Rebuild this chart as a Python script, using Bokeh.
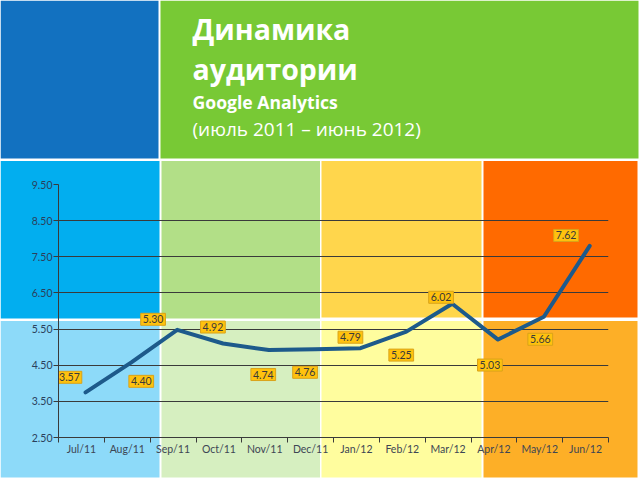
import numpy as np
from bokeh.plotting import figure
from bokeh.models import (Range1d, LinearAxis, FixedTicker, NumeralTickFormatter,
                          ColumnDataSource, Grid, GridBox, Column)
from bokeh.core.properties import value
from bokeh.embed import file_html
from bokeh.resources import INLINE

# ---------------- data ----------------
categories = ["Jul/11", "Aug/11", "Sep/11", "Oct/11", "Nov/11", "Dec/11",
              "Jan/12", "Feb/12", "Mar/12", "Apr/12", "May/12", "Jun/12"]
audience = [3.57, 4.40, 5.30, 4.92, 4.74, 4.76, 4.79, 5.25, 6.02, 5.03, 5.66, 7.62]
y_ticks = [2.50, 3.50, 4.50, 5.50, 6.50, 7.50, 8.50, 9.50]
title_lines = ["Динамика", "аудитории"]
subtitle = "Google Analytics"
period = "(июль 2011 – июнь 2012)"

# ---------------- layout / style ----------------
W, H = 640, 480
label_dx = [-12, 14, -20, -6, -1.5, -5.5, -6, -1, -7, -4, 0.5, -19.5]
label_dy = [-21.5, 12.5, -17, -23, 18, 16.5, -17.5, 17, -13, 19, 16, -17]

# background panels (slide decoration): left, right, top, bottom in page pixels
panels = dict(
    left=[0, 160, 0, 161, 321, 483, 0, 161, 321, 483],
    right=[158, 638, 159, 319.5, 481, 637, 159, 319.5, 481, 637],
    top=[0, 0, 160.5, 160.5, 160.5, 160.5, 320.5, 320.5, 320.5, 320.5],
    bottom=[158, 158, 318, 318, 317, 317, 477, 477, 477, 477],
    color=["#1271C0", "#78C935", "#02AEEF", "#B2DF87", "#FFD64C", "#FF6A00",
           "#8DDAF9", "#D6EFC0", "#FFFD9E", "#FDAF27"],
)

# ---------------- background figure ----------------
bg = figure(width=W, height=H, x_range=Range1d(0, W), y_range=Range1d(H, 0),
            x_axis_type=None, y_axis_type=None, output_backend="svg", toolbar_location=None,
            min_border=0)
bg.outline_line_color = None
bg.border_fill_color = "white"
bg.background_fill_color = "white"
bg.quad(left="left", right="right", top="top", bottom="bottom", color="color",
        source=ColumnDataSource(panels), line_color=None)

TITLE_FONT = "Open Sans"
title_specs = [
    (title_lines[0], 28, "28.5px", "bold"),
    (title_lines[1], 68, "28.5px", "bold"),
    (subtitle, 101, "17.6px", "bold"),
    (period, 128, "19px", "normal"),
]
for text, y, size, style in title_specs:
    bg.text(x=[192], y=[y], text=[text], text_font=value(TITLE_FONT), text_font_size=size,
            text_font_style=style, text_color="white", text_baseline="alphabetic",
            text_align="left")

# ---------------- chart figure ----------------
n = len(categories)
centers = [i + 0.5 for i in range(n)]
bounds = list(range(n + 1))

p = figure(width=W, height=H, x_range=Range1d(0, n), y_range=Range1d(y_ticks[0], y_ticks[-1]),
           x_axis_type=None, y_axis_type=None, output_backend="svg", toolbar_location=None,
           min_border_left=58, min_border_right=32, min_border_top=184, min_border_bottom=43)
p.outline_line_color = None
p.background_fill_color = None
p.border_fill_color = None

# the line in the original is drawn slightly shifted against the grid
p.extra_x_ranges = {"lx": Range1d(-0.09, n - 0.09)}
p.extra_y_ranges = {"ly": Range1d(y_ticks[0] - 0.18, y_ticks[-1] - 0.18)}

p.add_layout(Grid(dimension=1, ticker=FixedTicker(ticks=y_ticks), grid_line_color="#3a3a3a",
                  grid_line_width=1))

TICK_FONT = "Lato"
yaxis = LinearAxis(ticker=FixedTicker(ticks=y_ticks), formatter=NumeralTickFormatter(format="0.00"),
                   major_tick_out=5, major_tick_in=0, minor_tick_out=0, minor_tick_in=0,
                   axis_line_color="#3a3a3a", major_tick_line_color="#3a3a3a",
                   major_label_text_font=TICK_FONT, major_label_text_font_size="10.5px",
                   major_label_text_color="#2b3f5c", major_label_standoff=1)
p.add_layout(yaxis, "left")

xaxis = LinearAxis(ticker=FixedTicker(ticks=centers, minor_ticks=bounds),
                   major_label_overrides={c: cat for c, cat in zip(centers, categories)},
                   major_tick_out=0, major_tick_in=0, minor_tick_out=5, minor_tick_in=0,
                   major_tick_line_color=None, minor_tick_line_color="#3a3a3a",
                   axis_line_color="#3a3a3a",
                   major_label_text_font=TICK_FONT, major_label_text_font_size="10.5px",
                   major_label_text_color="#3d4654", major_label_standoff=0)
p.add_layout(xaxis, "below")

p.line(x=centers, y=audience, x_range_name="lx", y_range_name="ly",
       line_color="#1D5A8B", line_width=4, line_join="round", line_cap="round")

src = ColumnDataSource(dict(x=centers, y=audience, label=[f"{v:.2f}" for v in audience],
                            dx=label_dx, dy=label_dy))
p.text(x="x", y="y", text="label", source=src, x_offset="dx", y_offset="dy",
       text_font=value(TICK_FONT), text_font_size="10.5px", text_color="#3a3a3a",
       text_align="center", text_baseline="middle",
       background_fill_color="#FFC20E", border_line_color="#D9A31A", padding=2)

layout = GridBox(children=[(Column(children=[bg]), 0, 0), (Column(children=[p]), 0, 0)])
open("out.html", "w").write(file_html(layout, INLINE))
